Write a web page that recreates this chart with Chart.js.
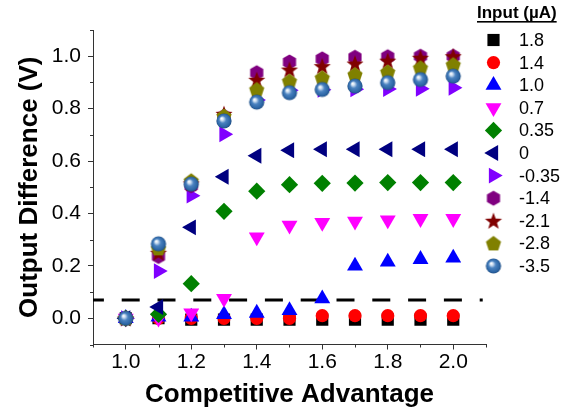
<!DOCTYPE html>
<html>
<head>
<meta charset="utf-8">
<script src="https://cdn.jsdelivr.net/npm/chart.js@4.4.0/dist/chart.umd.min.js"></script>
<style>
  html, body { margin: 0; padding: 0; background: #ffffff; }
  #wrap { width: 563px; height: 410px; position: relative; }
</style>
</head>
<body>
<div id="wrap"><canvas id="chart" width="563" height="410"></canvas></div>
<script>
// Competitive advantage (x) for every input current series
const advantage = [1.0, 1.1, 1.2, 1.3, 1.4, 1.5, 1.6, 1.7, 1.8, 1.9, 2.0];

// Legend labels, input current in µA
const inputLabels = ['1.8', '1.4', '1.0', '0.7', '0.35', '0', '-0.35', '-1.4', '-2.1', '-2.8', '-3.5'];

// Output difference (V) per input current
const out_p1_8  = [0, 0, -0.005, -0.005, -0.005, -0.005, -0.005, -0.005, -0.005, -0.005, -0.005];
const out_p1_4  = [0, 0, 0, 0, 0, 0, 0.01, 0.01, 0.01, 0.01, 0.01];
const out_p1_0  = [0, 0.005, 0.005, 0.015, 0.02, 0.03, 0.075, 0.2, 0.215, 0.225, 0.23];
const out_p0_7  = [0, 0, 0.02, 0.075, 0.31, 0.355, 0.365, 0.37, 0.375, 0.38, 0.38];
const out_p0_35 = [0, 0.015, 0.132, 0.408, 0.485, 0.51, 0.515, 0.516, 0.518, 0.518, 0.518];
const out_0     = [0, 0.043, 0.347, 0.54, 0.62, 0.641, 0.645, 0.645, 0.645, 0.645, 0.645];
const out_m0_35 = [0, 0.18, 0.468, 0.702, 0.833, 0.87, 0.872, 0.874, 0.875, 0.876, 0.88];
const out_m1_4  = [0, 0.236, 0.505, 0.77, 0.937, 0.978, 0.99, 0.996, 0.998, 1.0, 1.0];
const out_m2_1  = [0, 0.25, 0.515, 0.78, 0.91, 0.949, 0.962, 0.972, 0.983, 0.994, 1.0];
const out_m2_8  = [0, 0.267, 0.525, 0.772, 0.873, 0.905, 0.918, 0.93, 0.94, 0.956, 0.968];
const out_m3_5  = [0, 0.284, 0.512, 0.753, 0.825, 0.861, 0.873, 0.886, 0.899, 0.911, 0.924];

// Dashed threshold level
const thresholdX = [0.9, 2.09];
const thresholdY = 0.07;

// Axis tick labels
const xTickLabels = ['1.0', '1.2', '1.4', '1.6', '1.8', '2.0'];
const yTickLabels = ['0.0', '0.2', '0.4', '0.6', '0.8', '1.0'];

// ---- custom marker sprites ----
function sprite(size, draw) {
  const c = document.createElement('canvas');
  c.width = size; c.height = size;
  const g = c.getContext('2d');
  draw(g, size / 2);
  return c;
}
function polygon(g, cx, cy, r, n, startAngle) {
  g.beginPath();
  for (let i = 0; i < n; i++) {
    const a = startAngle + i * 2 * Math.PI / n;
    const px = cx + r * Math.cos(a), py = cy + r * Math.sin(a);
    if (i === 0) g.moveTo(px, py); else g.lineTo(px, py);
  }
  g.closePath();
}
const hexagonSprite = sprite(18, (g, c) => {
  polygon(g, c, c, 7.6, 6, -Math.PI / 2);
  g.fillStyle = '#800080'; g.fill();
});
const pentagonSprite = sprite(18, (g, c) => {
  polygon(g, c, c + 0.6, 8, 5, -Math.PI / 2);
  g.fillStyle = '#808000'; g.fill();
});
const starSprite = sprite(20, (g, c) => {
  g.beginPath();
  for (let i = 0; i < 10; i++) {
    const r = i % 2 === 0 ? 9 : 3.7;
    const a = -Math.PI / 2 + i * Math.PI / 5;
    const px = c + r * Math.cos(a), py = c + 0.8 + r * Math.sin(a);
    if (i === 0) g.moveTo(px, py); else g.lineTo(px, py);
  }
  g.closePath();
  g.fillStyle = '#800000'; g.fill();
});
const sphereSprite = sprite(18, (g, c) => {
  const r = 7.6;
  const grad = g.createRadialGradient(c - 2.4, c - 2.6, 0.3, c, c, r);
  grad.addColorStop(0, '#ffffff');
  grad.addColorStop(0.18, '#c9dcf0');
  grad.addColorStop(0.45, '#4a82c0');
  grad.addColorStop(0.85, '#2b64a3');
  grad.addColorStop(1, '#1c4a80');
  g.beginPath(); g.arc(c, c, r, 0, Math.PI * 2);
  g.fillStyle = grad; g.fill();
});

// marker definition per series (same order as inputLabels)
const seriesValues = [out_p1_8, out_p1_4, out_p1_0, out_p0_7, out_p0_35, out_0,
                      out_m0_35, out_m1_4, out_m2_1, out_m2_8, out_m3_5];
const markers = [
  { style: 'rect',     color: '#000000', radius: 8.6, rotation: 0 },
  { style: 'circle',   color: '#ff0000', radius: 6.6, rotation: 0 },
  { style: 'triangle', color: '#0000ff', radius: 9.2, rotation: 0 },
  { style: 'triangle', color: '#ff00ff', radius: 9.2, rotation: 180 },
  { style: 'rectRot',  color: '#008000', radius: 8.6, rotation: 0 },
  { style: 'triangle', color: '#000080', radius: 9.2, rotation: -90 },
  { style: 'triangle', color: '#8000ff', radius: 9.2, rotation: 90 },
  { style: hexagonSprite,  color: '#800080', radius: 8, rotation: 0 },
  { style: starSprite,     color: '#800000', radius: 8, rotation: 0 },
  { style: pentagonSprite, color: '#808000', radius: 8, rotation: 0 },
  { style: sphereSprite,   color: '#2b64a3', radius: 8, rotation: 0 }
];

const datasets = seriesValues.map((vals, i) => ({
  label: inputLabels[i],
  data: advantage.map((x, k) => ({ x: x, y: vals[k] })),
  showLine: false,
  pointStyle: markers[i].style,
  pointRadius: markers[i].radius,
  pointRotation: markers[i].rotation,
  pointBackgroundColor: markers[i].color,
  pointBorderColor: markers[i].color,
  pointBorderWidth: 0,
  order: 20 - i
}));

datasets.push({
  label: 'threshold',
  data: thresholdX.map(x => ({ x: x, y: thresholdY })),
  showLine: true,
  borderColor: '#000000',
  borderWidth: 3,
  borderDash: [18, 17.8],
  borderDashOffset: 7.1,
  borderCapStyle: 'butt',
  pointRadius: 0,
  order: 40
});

const tenth = v => Math.round(v * 10);
const isMajorX = v => tenth(v) % 2 === 0 && tenth(v) >= 10 && tenth(v) <= 20;
const isMajorY = v => tenth(v) % 2 === 0 && tenth(v) >= 0 && tenth(v) <= 10;
const AXIS_COLOR = '#333333';

// short minor ticks between the labelled ones
const minorTicks = {
  id: 'minorTicks',
  afterDraw(chart) {
    const { ctx, scales: { x, y } } = chart;
    ctx.save();
    ctx.strokeStyle = AXIS_COLOR;
    ctx.lineWidth = 1;
    ctx.beginPath();
    for (let k = 9; k <= 21; k += 2) {
      const px = Math.round(x.getPixelForValue(k / 10)) + 0.5;
      ctx.moveTo(px, y.bottom); ctx.lineTo(px, y.bottom + 3);
    }
    for (let k = -1; k <= 11; k += 2) {
      const py = Math.round(y.getPixelForValue(k / 10)) + 0.5;
      ctx.moveTo(x.left, py); ctx.lineTo(x.left - 3, py);
    }
    ctx.stroke();
    ctx.restore();
  }
};

// legend block on the right with an underlined heading
const inputLegend = {
  id: 'inputLegend',
  afterDraw(chart) {
    const ctx = chart.ctx;
    ctx.save();
    ctx.fillStyle = '#000000';
    ctx.font = 'bold 17px "Liberation Sans", Arial, sans-serif';
    ctx.textAlign = 'left';
    ctx.textBaseline = 'alphabetic';
    const title = 'Input (\u00b5A)';
    const tx = 477, ty = 18;
    ctx.fillText(title, tx, ty);
    const tw = ctx.measureText(title).width;
    ctx.fillRect(tx, ty + 3, tw, 1.6);

    ctx.font = '18px "Liberation Sans", Arial, sans-serif';
    ctx.textBaseline = 'middle';
    const mx = 493.5, lx = 519, y0 = 40, dy = 22.6;
    markers.forEach((m, i) => {
      const yy = y0 + i * dy;
      ctx.fillStyle = m.color;
      ctx.strokeStyle = m.color;
      Chart.helpers.drawPoint(ctx, {
        pointStyle: m.style, radius: m.radius, rotation: m.rotation, borderWidth: 0
      }, mx, yy);
      ctx.fillStyle = '#000000';
      ctx.fillText(inputLabels[i], lx, yy + 1);
    });
    ctx.restore();
  }
};

new Chart(document.getElementById('chart'), {
  type: 'scatter',
  data: { datasets: datasets },
  plugins: [minorTicks, inputLegend],
  options: {
    responsive: false,
    animation: false,
    devicePixelRatio: 1,
    events: [],
    layout: { padding: { left: 0, right: 77, top: 30, bottom: 0 } },
    plugins: { legend: { display: false }, tooltip: { enabled: false } },
    scales: {
      x: {
        type: 'linear',
        min: 0.9, max: 2.1,
        afterFit: s => { s.height = 65.5; },
        afterBuildTicks: s => {
          s.ticks = [];
          for (let k = 9; k <= 21; k++) s.ticks.push({ value: k / 10 });
        },
        ticks: {
          autoSkip: false,
          maxRotation: 0,
          padding: 2,
          color: '#000000',
          font: { family: '"Liberation Sans", Arial, sans-serif', size: 21, lineHeight: 1 },
          callback: v => isMajorX(v) ? xTickLabels[(tenth(v) - 10) / 2] : ''
        },
        grid: {
          drawOnChartArea: false,
          tickLength: 5,
          tickWidth: 1,
          tickColor: c => isMajorX(c.tick.value) ? AXIS_COLOR : 'rgba(0,0,0,0)'
        },
        border: { display: true, color: AXIS_COLOR, width: 1 },
        title: {
          display: true,
          text: 'Competitive Advantage',
          color: '#000000',
          font: { family: '"Liberation Sans", Arial, sans-serif', size: 26, weight: 'bold', lineHeight: 1 },
          padding: { top: 0, bottom: 2 }
        }
      },
      y: {
        type: 'linear',
        min: -0.1, max: 1.1,
        afterFit: s => { s.width = 93; },
        afterBuildTicks: s => {
          s.ticks = [];
          for (let k = -1; k <= 11; k++) s.ticks.push({ value: k / 10 });
        },
        ticks: {
          autoSkip: false,
          padding: 7,
          color: '#000000',
          font: { family: '"Liberation Sans", Arial, sans-serif', size: 21, lineHeight: 1 },
          callback: v => isMajorY(v) ? yTickLabels[tenth(v) / 2] : ''
        },
        grid: {
          drawOnChartArea: false,
          tickLength: 5,
          tickWidth: 1,
          tickColor: c => isMajorY(c.tick.value) ? AXIS_COLOR : 'rgba(0,0,0,0)'
        },
        border: { display: true, color: AXIS_COLOR, width: 1 },
        title: {
          display: true,
          text: 'Output Difference (V)',
          color: '#000000',
          font: { family: '"Liberation Sans", Arial, sans-serif', size: 26, weight: 'bold', lineHeight: 1 },
          padding: { top: 17, bottom: 0 }
        }
      }
    }
  }
});
</script>
</body>
</html>
